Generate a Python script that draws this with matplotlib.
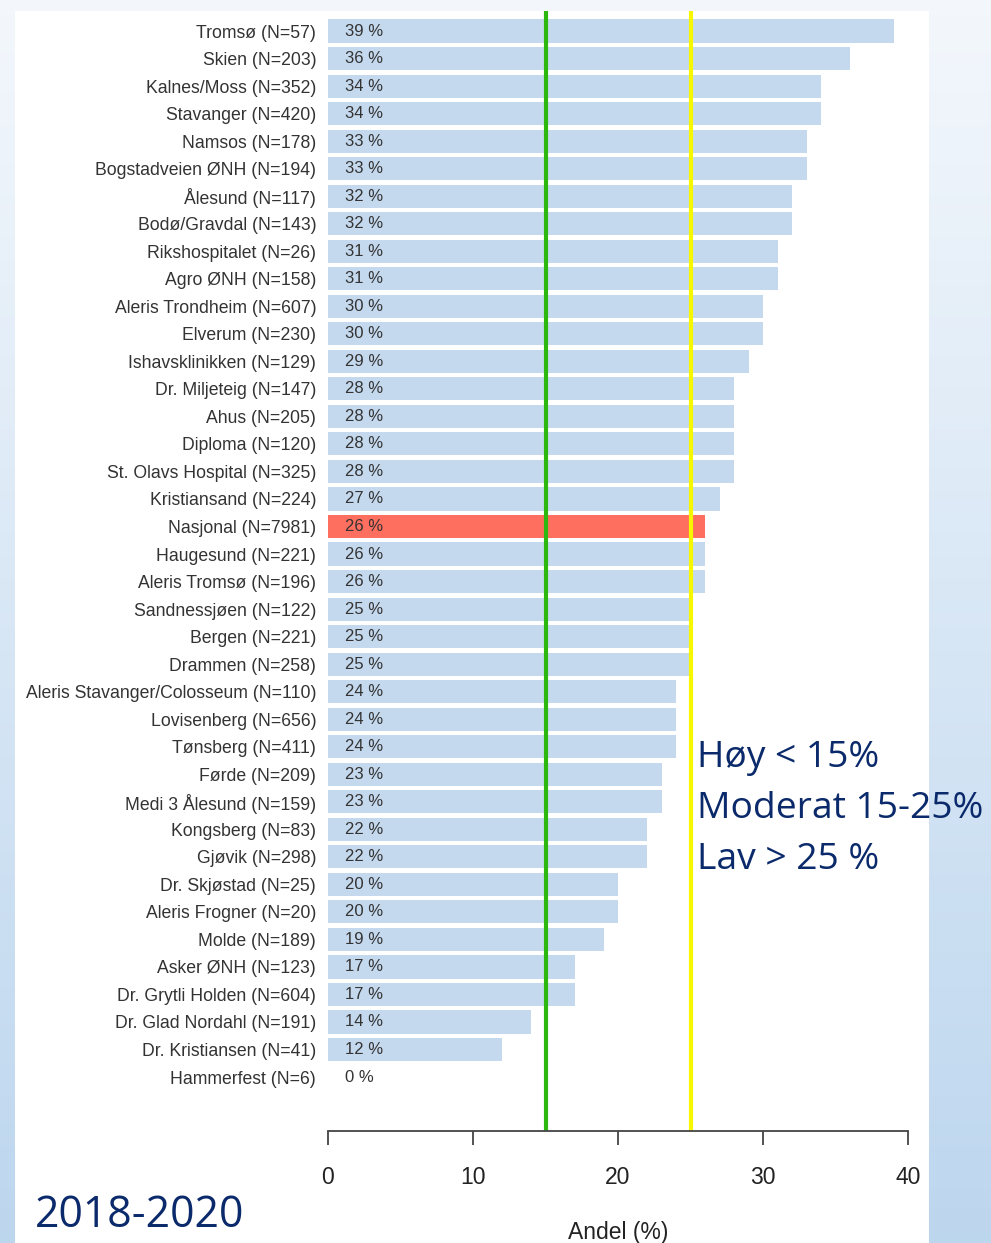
import numpy as np
import matplotlib
matplotlib.use("Agg")
import matplotlib.pyplot as plt
from matplotlib.patches import Rectangle

labels = ["Tromsø (N=57)", "Skien (N=203)", "Kalnes/Moss (N=352)", "Stavanger (N=420)",
          "Namsos (N=178)", "Bogstadveien ØNH (N=194)", "Ålesund (N=117)",
          "Bodø/Gravdal (N=143)", "Rikshospitalet (N=26)", "Agro ØNH (N=158)",
          "Aleris Trondheim (N=607)", "Elverum (N=230)", "Ishavsklinikken (N=129)",
          "Dr. Miljeteig (N=147)", "Ahus (N=205)", "Diploma (N=120)",
          "St. Olavs Hospital (N=325)", "Kristiansand (N=224)", "Nasjonal (N=7981)",
          "Haugesund (N=221)", "Aleris Tromsø (N=196)", "Sandnessjøen (N=122)",
          "Bergen (N=221)", "Drammen (N=258)", "Aleris Stavanger/Colosseum (N=110)",
          "Lovisenberg (N=656)", "Tønsberg (N=411)", "Førde (N=209)",
          "Medi 3 Ålesund (N=159)", "Kongsberg (N=83)", "Gjøvik (N=298)",
          "Dr. Skjøstad (N=25)", "Aleris Frogner (N=20)", "Molde (N=189)",
          "Asker ØNH (N=123)", "Dr. Grytli Holden (N=604)", "Dr. Glad Nordahl (N=191)",
          "Dr. Kristiansen (N=41)", "Hammerfest (N=6)"]
values = [39, 36, 34, 34, 33, 33, 32, 32, 31, 31, 30, 30, 29, 28, 28, 28, 28, 27, 26,
          26, 26, 25, 25, 25, 24, 24, 24, 23, 23, 22, 22, 20, 20, 19, 17, 17, 14, 12, 0]
highlight = "Nasjonal (N=7981)"
xticks = [0, 10, 20, 30, 40]
thresholds = [15, 25]
legend_lines = ["Høy < 15%", "Moderat 15-25%", "Lav > 25 %"]
period = "2018-2020"

W, H = 991, 1243
fig = plt.figure(figsize=(W / 100, H / 100), dpi=100)

# background gradient + white panel
bg = fig.add_axes([0, 0, 1, 1], zorder=-10)
grad = np.linspace(0, 1, 256)[:, None]
top = np.array([0.955, 0.97, 0.988])
bot = np.array([0.74, 0.84, 0.935])
img = top[None, None, :] * (1 - grad[..., None]) + bot[None, None, :] * grad[..., None]
bg.imshow(img, aspect="auto", extent=[0, 1, 0, 1], origin="upper")
bg.add_patch(Rectangle((15 / W, 0), (929 - 15) / W, (H - 11) / H, color="white", lw=0))
bg.set_xlim(0, 1)
bg.set_ylim(0, 1)
bg.axis("off")

ax_left = 328 / W
ax_right = 908 / W
ax_bottom = (H - 1131) / H
ax_top = (H - 11.2) / H
ax = fig.add_axes([ax_left, ax_bottom, ax_right - ax_left, ax_top - ax_bottom])
ax.patch.set_alpha(0)

y = np.arange(len(labels))
colors = ["#ff6f5f" if l == highlight else "#c5d9ee" for l in labels]
ax.barh(y, values, height=0.84, color=colors, zorder=1)

for yi, v in zip(y, values):
    ax.annotate(f"{v} %", xy=(0, yi), xytext=(12.2, 0), textcoords="offset points",
                ha="left", va="center", fontsize=12, color="#333333",
                family="Liberation Sans", zorder=3)

for t, c in zip(thresholds, ["#2cb80e", "#f7f700"]):
    ax.axvline(t, color=c, lw=3, zorder=2)

ax.set_xlim(0, 40)
ax.set_ylim(39.96, -0.72)
ax.set_yticks(y)
ax.set_yticklabels(labels, fontsize=12.7, family="Liberation Sans", color="#333333")
ax.tick_params(axis="y", length=0, pad=8.5)
ax.set_xticks(xticks)
ax.set_xticklabels([str(t) for t in xticks], fontsize=16.5, family="Liberation Sans",
                   color="#222222")
ax.tick_params(axis="x", length=10, width=1.3, color="#444444", pad=15)
for s in ["top", "right", "left"]:
    ax.spines[s].set_visible(False)
ax.spines["bottom"].set_bounds(0, 40)
ax.spines["bottom"].set_linewidth(1.3)
ax.spines["bottom"].set_color("#444444")
ax.set_xlabel("Andel (%)", fontsize=16.5, family="Liberation Sans", color="#222222",
              labelpad=23)

navy = "#0b2a6b"
for i, txt in enumerate(legend_lines):
    fig.text(697 / W, 1 - (758 + i * 51) / H, txt, fontsize=26.8, family="Open Sans",
             color=navy, ha="left", va="center")
fig.text(35 / W, 1 - 1216 / H, period, fontsize=30.8, family="Open Sans", color=navy,
         ha="left", va="center")

fig.savefig("out.png", dpi=100)
